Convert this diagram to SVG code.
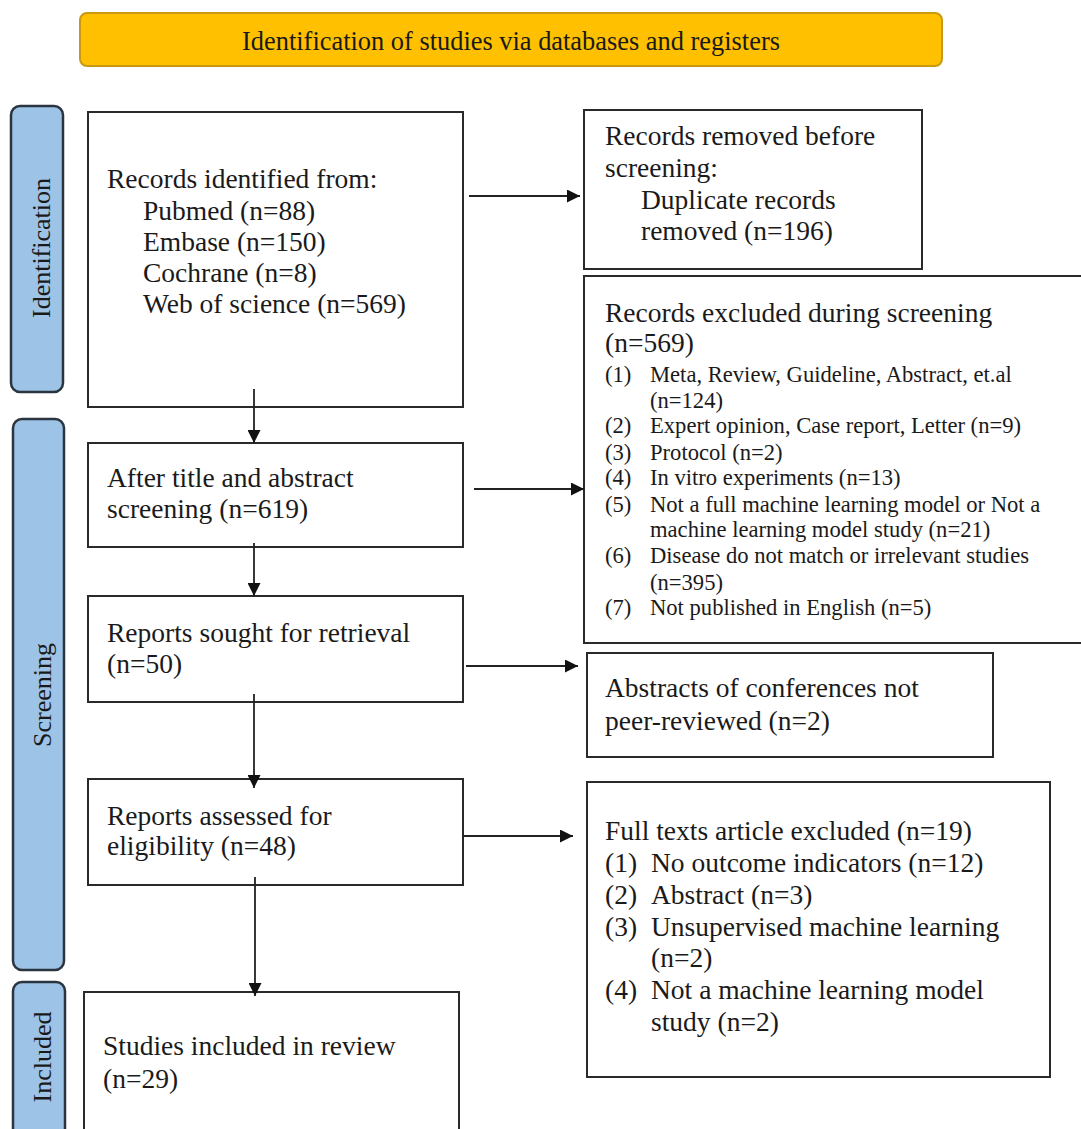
<svg xmlns="http://www.w3.org/2000/svg" width="1081" height="1129" viewBox="0 0 1081 1129">
<style>
text{font-family:"Liberation Serif","Times New Roman",serif;fill:#1a1a1a;}
.t{font-size:27.5px;}
.s{font-size:22.6px;}
.side{font-size:26px;}
.box{fill:#fff;stroke:#2a2a2a;stroke-width:2;}
.bar{fill:#9DC3E6;stroke:#2b3540;stroke-width:2.5;}
.con{stroke:#222;stroke-width:1.8;fill:none;marker-end:url(#ah);}
</style>
<defs>
<marker id="ah" markerUnits="userSpaceOnUse" markerWidth="13" markerHeight="13" refX="13" refY="6.5" orient="auto">
<path d="M0,0 L13,6.5 L0,13 z" fill="#111"/>
</marker>
</defs>
<rect width="1081" height="1129" fill="#fff"/>

<g id="banner">
<rect x="80" y="13" width="862" height="53" rx="7" fill="#FFC000" stroke="#C99A10" stroke-width="2"/>
<text x="511" y="50" font-size="26.4" text-anchor="middle">Identification of studies via databases and registers</text>
</g>

<g id="bar-identification">
<rect class="bar" x="11" y="106" width="52" height="286" rx="9"/>
<text class="side" transform="translate(50,248) rotate(-90)" text-anchor="middle">Identification</text>
</g>
<g id="bar-screening">
<rect class="bar" x="13" y="419" width="51" height="551" rx="9"/>
<text class="side" transform="translate(51,695) rotate(-90)" text-anchor="middle">Screening</text>
</g>
<g id="bar-included">
<rect class="bar" x="13" y="982" width="52" height="160" rx="9"/>
<text class="side" transform="translate(51,1057) rotate(-90)" text-anchor="middle">Included</text>
</g>

<g id="records-identified">
<rect class="box" x="88" y="112" width="375" height="295"/>
<text class="t" x="107" y="188">Records identified from:</text>
<text class="t" x="143" y="220">Pubmed (n=88)</text>
<text class="t" x="143" y="251">Embase (n=150)</text>
<text class="t" x="143" y="282">Cochrane (n=8)</text>
<text class="t" x="143" y="313">Web of science (n=569)</text>
</g>

<g id="records-removed">
<rect class="box" x="584" y="110" width="338" height="159"/>
<text class="t" x="605" y="145">Records removed before</text>
<text class="t" x="605" y="177">screening:</text>
<text class="t" x="641" y="209">Duplicate records</text>
<text class="t" x="641" y="240">removed  (n=196)</text>
</g>

<g id="after-title">
<rect class="box" x="88" y="443" width="375" height="104"/>
<text class="t" x="107" y="487">After title and abstract</text>
<text class="t" x="107" y="518">screening (n=619)</text>
</g>

<g id="records-excluded">
<rect class="box" x="584" y="276" width="500" height="367"/>
<text class="t" x="605" y="322">Records excluded during screening</text>
<text class="t" x="605" y="352">(n=569)</text>
<text class="s" x="605" y="382">(1)</text><text class="s" x="650" y="382">Meta, Review, Guideline, Abstract, et.al</text>
<text class="s" x="650" y="408">(n=124)</text>
<text class="s" x="605" y="433">(2)</text><text class="s" x="650" y="433">Expert opinion, Case report, Letter (n=9)</text>
<text class="s" x="605" y="460">(3)</text><text class="s" x="650" y="460">Protocol (n=2)</text>
<text class="s" x="605" y="485">(4)</text><text class="s" x="650" y="485">In vitro experiments (n=13)</text>
<text class="s" x="605" y="512">(5)</text><text class="s" x="650" y="512">Not a full machine learning model or Not a</text>
<text class="s" x="650" y="537">machine learning model study (n=21)</text>
<text class="s" x="605" y="563">(6)</text><text class="s" x="650" y="563">Disease do not match or irrelevant studies</text>
<text class="s" x="650" y="590">(n=395)</text>
<text class="s" x="605" y="615">(7)</text><text class="s" x="650" y="615">Not published in English (n=5)</text>
</g>

<g id="reports-sought">
<rect class="box" x="88" y="596" width="375" height="106"/>
<text class="t" x="107" y="642">Reports sought for retrieval</text>
<text class="t" x="107" y="673">(n=50)</text>
</g>

<g id="abstracts-conferences">
<rect class="box" x="587" y="653" width="406" height="104"/>
<text class="t" x="605" y="697">Abstracts of conferences not</text>
<text class="t" x="605" y="730">peer-reviewed (n=2)</text>
</g>

<g id="reports-assessed">
<rect class="box" x="88" y="779" width="375" height="106"/>
<text class="t" x="107" y="825">Reports assessed for</text>
<text class="t" x="107" y="855">eligibility (n=48)</text>
</g>

<g id="full-texts-excluded">
<rect class="box" x="587" y="782" width="463" height="295"/>
<text class="t" x="605" y="840">Full texts article excluded (n=19)</text>
<text class="t" x="605" y="872">(1)</text><text class="t" x="651" y="872">No outcome indicators (n=12)</text>
<text class="t" x="605" y="904">(2)</text><text class="t" x="651" y="904">Abstract (n=3)</text>
<text class="t" x="605" y="936">(3)</text><text class="t" x="651" y="936">Unsupervised machine learning</text>
<text class="t" x="651" y="967">(n=2)</text>
<text class="t" x="605" y="999">(4)</text><text class="t" x="651" y="999">Not a machine learning model</text>
<text class="t" x="651" y="1031">study (n=2)</text>
</g>

<g id="studies-included">
<rect class="box" x="84" y="992" width="375" height="160"/>
<text class="t" x="103" y="1055">Studies included in review</text>
<text class="t" x="103" y="1088">(n=29)</text>
</g>

<g id="connectors">
<line class="con" x1="469" y1="196" x2="580" y2="196"/>
<line class="con" x1="474" y1="489" x2="584" y2="489"/>
<line class="con" x1="466" y1="666" x2="578" y2="666"/>
<line class="con" x1="463" y1="836" x2="573" y2="836"/>
<line class="con" x1="254" y1="389" x2="254" y2="443"/>
<line class="con" x1="254" y1="543" x2="254" y2="596"/>
<line class="con" x1="254" y1="694" x2="254" y2="788"/>
<line class="con" x1="255" y1="877" x2="255" y2="996"/>
</g>
</svg>
